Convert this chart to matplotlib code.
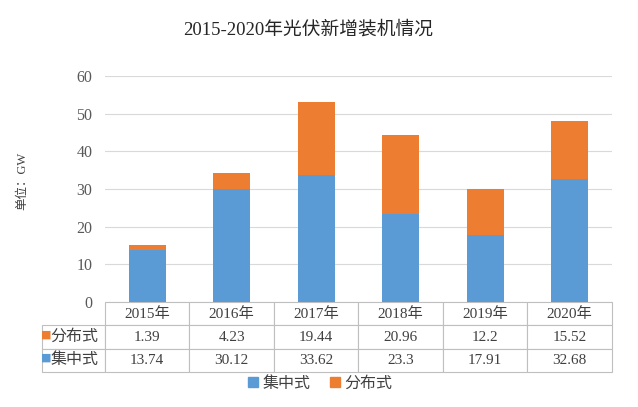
import matplotlib.pyplot as plt
from matplotlib.lines import Line2D

plt.rcParams['font.family'] = ['Liberation Serif', 'Noto Sans CJK SC']

years = ['2015年', '2016年', '2017年', '2018年', '2019年', '2020年']
jizhong = [13.74, 30.12, 33.62, 23.3, 17.91, 32.68]
fenbu = [1.39, 4.23, 19.44, 20.96, 12.2, 15.52]
jizhong_txt = ['13.74', '30.12', '33.62', '23.3', '17.91', '32.68']
fenbu_txt = ['1.39', '4.23', '19.44', '20.96', '12.2', '15.52']

blue = '#5B9BD5'
orange = '#ED7D31'
txtc = '#404040'

fig = plt.figure(figsize=(6.38, 4.07), dpi=100)
ax = fig.add_axes([0.1646, 0.258, 0.7944, 0.555])

x = list(range(len(years)))
ax.bar(x, jizhong, width=0.44, color=blue, zorder=3)
ax.bar(x, fenbu, width=0.44, bottom=jizhong, color=orange, zorder=3)

ax.set_xlim(-0.5, 5.5)
ax.set_ylim(0, 60)
ax.set_yticks(range(0, 61, 10))
ax.yaxis.grid(True, color='#D9D9D9', lw=0.8, zorder=0)
ax.set_xticks([])
ax.tick_params(axis='y', length=0, labelsize=11.5, labelcolor='#595959', pad=9)
for s in ax.spines.values():
    s.set_visible(False)

tab = ax.table(cellText=[fenbu_txt, jizhong_txt],
               rowLabels=['分布式', '集中式'],
               colLabels=years,
               colWidths=[1 / 6] * 6,
               cellLoc='center', rowLoc='right',
               bbox=[0, -0.31, 1, 0.31])
tab._autoColumns = []
tab.auto_set_font_size(False)
for (r, c), cell in tab.get_celld().items():
    cell.set_edgecolor('#BFBFBF')
    cell.set_linewidth(0.8)
    cell.get_text().set_fontsize(11)
    cell.get_text().set_color(txtc)
    if c == -1:
        cell.set_width(0.124)
        cell.get_text().set_fontsize(11.5)

# colored keys in the row labels
for i, col in enumerate([orange, blue]):
    yk = 1 - (335 + i * 23) / 407
    fig.text(0.073, yk, '■', color=col, fontsize=8, ha='center', va='center',
             family=['DejaVu Sans'])

fig.text(0.483, 1 - 30 / 407, '2015-2020年光伏新增装机情况', ha='center', va='center',
         fontsize=13.5, color='#262626')
fig.text(0.035, 0.555, '单位：GW', rotation=90, ha='center', va='center',
         fontsize=9, color=txtc)

handles = [Line2D([], [], marker='s', ls='', color=blue, markersize=7),
           Line2D([], [], marker='s', ls='', color=orange, markersize=7)]
fig.legend(handles, ['集中式', '分布式'], loc='center', ncol=2,
           bbox_to_anchor=(0.5, 1 - 384 / 407), frameon=False,
           fontsize=11.5, labelcolor=txtc, handletextpad=0.1, columnspacing=1.0,
           handlelength=1.0)

fig.savefig('out.png', dpi=100)
